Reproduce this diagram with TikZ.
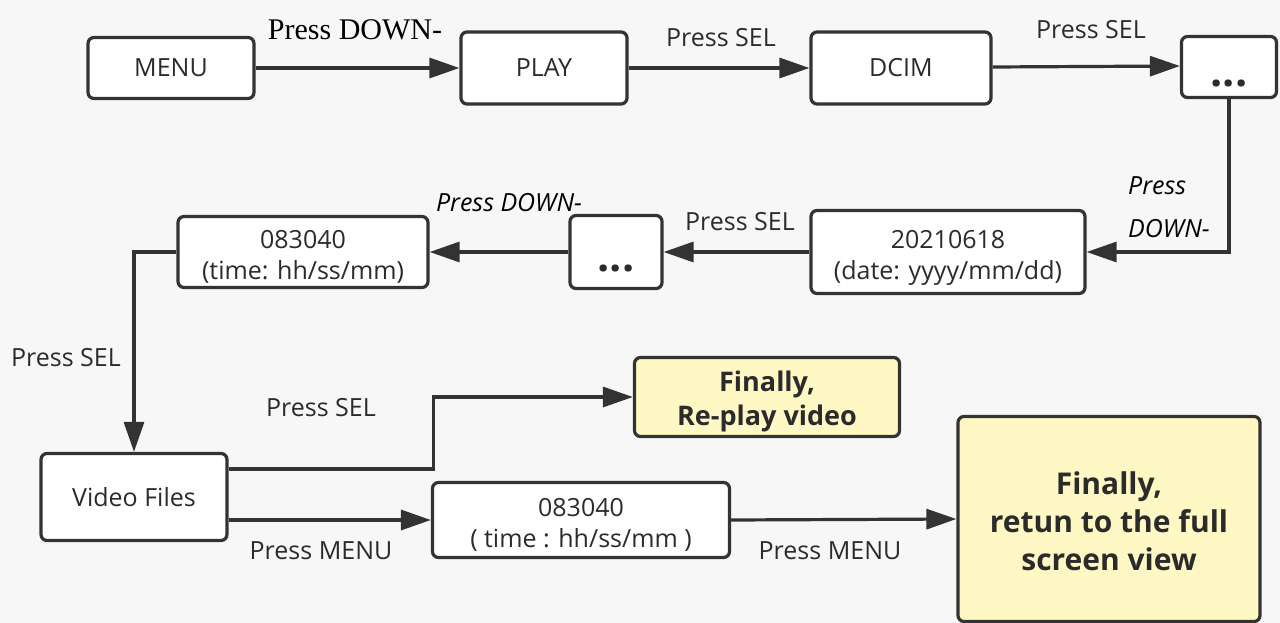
\documentclass[tikz,border=0pt]{standalone}
\usepackage{fontspec}
\setmainfont{Open Sans}
\newfontfamily\serifx{Liberation Serif}
\usetikzlibrary{arrows.meta}
\definecolor{bgc}{HTML}{F7F7F7}
\definecolor{lc}{HTML}{333333}
\definecolor{txt}{HTML}{2B2B2B}
\definecolor{yel}{HTML}{FFF8C4}
\begin{document}
\begin{tikzpicture}[x=1pt,y=-1pt,
  box/.style={draw=lc, line width=3.2pt, rounded corners=6pt, fill=white, text=txt, align=center, inner sep=0pt, font=\fontsize{25}{31}\selectfont},
  fin/.style={box, fill=yel, font=\fontsize{27}{34}\selectfont\bfseries},
  bigfin/.style={box, fill=yel, font=\fontsize{30}{38}\selectfont\bfseries},
  dotsbox/.style={box, font=\fontsize{43}{46}\selectfont\bfseries},
  lab/.style={text=txt, inner sep=0pt, font=\fontsize{25}{30}\selectfont},
  ilab/.style={text=black, inner sep=0pt, font=\fontsize{25}{30}\selectfont\itshape},
  slab/.style={text=black, inner sep=0pt, font=\fontsize{30}{34}\selectfont\serifx},
  arr/.style={draw=lc, line width=3.2pt, -{Triangle[length=30pt,width=20pt]}}
]
\fill[bgc] (0,0) rectangle (1280,623);
\useasboundingbox (0,0) rectangle (1280,623);

% row 1
\node[box, minimum width=166pt, minimum height=61pt] (menu) at (171,68) {MENU};
\node[box, minimum width=166pt, minimum height=72pt] (play) at (544,68) {PLAY};
\node[box, minimum width=180pt, minimum height=72pt] (dcim) at (901,68) {DCIM};
\node[dotsbox, minimum width=95pt, minimum height=61pt] (dots1) at (1229,67) {\rule{0pt}{40pt}...};

% row 2
\node[box, minimum width=250pt, minimum height=71pt] (t1) at (303,252) {\rule{0pt}{28pt}083040\\(time: hh/ss/mm)};
\node[dotsbox, minimum width=92pt, minimum height=73pt] (dots2) at (616,252) {\rule{0pt}{40pt}...};
\node[box, minimum width=274pt, minimum height=83pt] (date) at (948,252) {\rule{0pt}{31pt}20210618\\(date: yyyy/mm/dd)};

% row 3
\node[box, minimum width=186pt, minimum height=87pt] (video) at (134,497) {Video Files};
\node[box, minimum width=297pt, minimum height=75pt] (t2) at (581,520) {\rule{0pt}{28pt}083040\\( time : hh/ss/mm )};
\node[fin, minimum width=265pt, minimum height=79pt] (fin1) at (767,397) {\rule{0pt}{29pt}Finally,\\Re-play video};
\node[bigfin, minimum width=302pt, minimum height=205pt] (fin2) at (1109,519) {\rule{0pt}{28pt}Finally,\\retun to the full\\screen view};

% connectors
\draw[arr] (menu.east) -- (play.west);
\draw[arr] (play.east) -- (dcim.west);
\draw[arr] ([yshift=1pt]dcim.east) -- ([yshift=1pt]dots1.west);
\draw[arr] (dots1.south) |- (date.east);
\draw[arr] (date.west) -- (dots2.west -| dots2.east);
\draw[arr] (dots2.west) -- (t1.east);
\draw[arr] (t1.west) -| (video.north);
\draw[arr] ([yshift=28pt]video.east) -- ++(205,0) |- (fin1.west);
\draw[arr] (video.east |- t2.west) -- (t2.west);
\draw[arr] (t2.east) -- (fin2.west);

% labels
\node[slab] (l1) at (355,30) {Press DOWN-};
\node[lab] (l2) at (721,38) {Press SEL};
\node[lab] (l3) at (1091,30) {Press SEL};
\node[ilab, anchor=west] (l4) at (1128,186) {Press};
\node[ilab, anchor=west] (l5) at (1128,229) {DOWN-};
\node[lab] (l6) at (740,222) {Press SEL};
\node[ilab] (l7) at (509,203) {Press DOWN-};
\node[lab] (l8) at (66,358) {Press SEL};
\node[lab] (l9) at (321,408) {Press SEL};
\node[lab] (l10) at (321,551) {Press MENU};
\node[lab] (l11) at (830,551) {Press MENU};
\end{tikzpicture}
\end{document}
